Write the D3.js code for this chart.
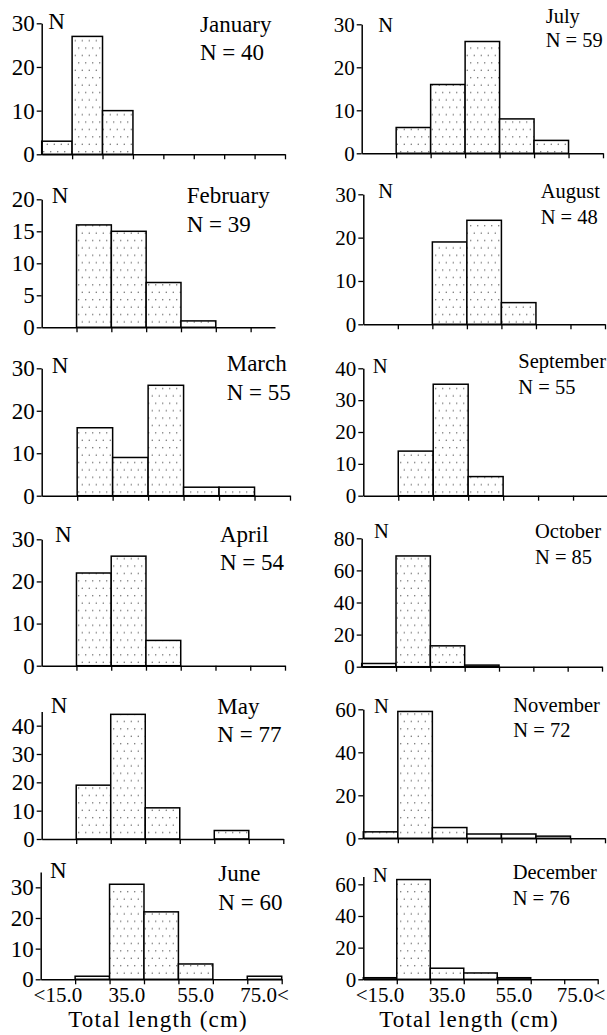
<!DOCTYPE html>
<html><head><meta charset="utf-8">
<script src="https://cdn.jsdelivr.net/npm/d3@7"></script>
<style>
html,body{margin:0;padding:0;background:#fff;}
svg{display:block;}
text{font-family:"Liberation Serif","Times New Roman",serif;fill:#000;}
</style></head><body>
<svg id="chart" width="607" height="1035"></svg>
<script>
// Monthly length-frequency data (number of fish per total-length class)
const months = ["January","February","March","April","May","June",
                "July","August","September","October","November","December"];
const sampleSizes = [40, 39, 55, 54, 77, 60, 59, 48, 55, 85, 72, 76];
const lengthClasses = ["<15.0","25.0","35.0","45.0","55.0","65.0","75.0<"];
const labelledClasses = ["<15.0","35.0","55.0","75.0<"];
const axisTitle = "Total length (cm)";

const countsJanuary   = [3, 27, 10, 0, 0, 0, 0];
const countsFebruary  = [0, 16, 15, 7, 1, 0, 0];
const countsMarch     = [0, 16, 9, 26, 2, 2, 0];
const countsApril     = [0, 22, 26, 6, 0, 0, 0];
const countsMay       = [0, 19, 44, 11, 0, 3, 0];
const countsJune      = [0, 1, 31, 22, 5, 0, 1];
const countsJuly      = [0, 6, 16, 26, 8, 3, 0];
const countsAugust    = [0, 0, 19, 24, 5, 0, 0];
const countsSeptember = [0, 14, 35, 6, 0, 0, 0];
const countsOctober   = [2, 69, 13, 1, 0, 0, 0];
const countsNovember  = [3, 59, 5, 2, 2, 1, 0];
const countsDecember  = [1, 63, 7, 4, 1, 0, 0];

const yAxisMax  = [30, 20, 30, 30, 45, 35, 30, 30, 40, 80, 60, 65];
const yTickStep = [10, 5, 10, 10, 10, 10, 10, 10, 10, 20, 20, 20];

const monthlyCounts = [countsJanuary, countsFebruary, countsMarch, countsApril,
  countsMay, countsJune, countsJuly, countsAugust, countsSeptember,
  countsOctober, countsNovember, countsDecember];

// Panel geometry: plot area, label anchors and font sizes
const L = {font: 23, tick: 23}, R = {font: 20.5, tick: 21};
const layout = [
  {x0:41.7, x1:285,   span:8,   base:154.3, top:23.3,  nx:48.3,  ny:29.3,  tx:200,   ty:32,    ty2:60,    ...L},
  {x0:41.7, x1:275,   span:6.7, base:327.3, top:199.3, nx:51.7,  ny:203.3, tx:186.7, ty:203,   ty2:232,   ...L},
  {x0:41.7, x1:290,   span:7,   base:495.7, top:368.3, nx:51.7,  ny:373.3, tx:226.7, ty:370.7, ty2:400,   ...L},
  {x0:41.7, x1:285,   span:7,   base:665.7, top:539.3, nx:55,    ny:542.3, tx:220,   ty:541.7, ty2:570,   ...L},
  {x0:41.7, x1:283.3, span:7,   base:839,   top:711.5, nx:50.7,  ny:713.3, tx:217.3, ty:714,   ty2:742.3, ...L},
  {x0:40.7, x1:281.7, span:7,   base:979.3, top:872,   nx:50,    ny:878.3, tx:218.3, ty:880.7, ty2:910,   ...L,
   xLabels:true, labelShift:0, titleX:158},
  {x0:361.7, x1:603,  span:7,   base:153.3, top:24.3,  nx:378.3, ny:31.7,  tx:545.7, ty:23.3,  ty2:46.7,  ...R},
  {x0:363.3, x1:605,  span:7,   base:324.3, top:194.3, nx:378.3, ny:198.3, tx:540.7, ty:198.3, ty2:224,   ...R},
  {x0:363.3, x1:608,  span:7,   base:495.7, top:368.3, nx:372.7, ny:373.3, tx:518.3, ty:368.3, ty2:394,   ...R},
  {x0:361.7, x1:602,  span:7,   base:666.7, top:538.3, nx:374,   ny:538.3, tx:535,   ty:538.3, ty2:564,   ...R},
  {x0:363.3, x1:605,  span:7,   base:838.3, top:709.3, nx:374,   ny:713.3, tx:513.3, ty:712.3, ty2:737.3, ...R},
  {x0:363.3, x1:597.7, span:7,  base:979.3, top:876.4, nx:372.7, ny:881.7, tx:512.7, ty:879.3, ty2:905,   ...R,
   xLabels:true, labelShift:0, titleX:469}
];

const svg = d3.select("#chart");

// Stippled fill for the bars (staggered rows of fine dots)
const pat = svg.append("defs").append("pattern")
  .attr("id", "stipple").attr("patternUnits", "userSpaceOnUse")
  .attr("width", 7).attr("height", 14.8);
pat.append("rect").attr("width", 7).attr("height", 14.8).attr("fill", "#fff");
pat.append("circle").attr("cx", 1.75).attr("cy", 3.7).attr("r", 0.65).attr("fill", "#555");
pat.append("circle").attr("cx", 5.25).attr("cy", 11.1).attr("r", 0.65).attr("fill", "#555");

function styleAxis(sel, size) {
  sel.attr("font-family", null).attr("font-size", null);
  sel.select(".domain").attr("stroke", "#000").attr("stroke-width", 1.5);
  sel.selectAll(".tick line").attr("stroke", "#000").attr("stroke-width", 1.3);
  sel.selectAll(".tick text").attr("fill", "#000").style("font-size", size + "px");
}

layout.forEach((p, i) => {
  const g = svg.append("g");
  const x = d3.scaleLinear().domain([0, p.span]).range([p.x0, p.x1]);
  const y = d3.scaleLinear().domain([0, yAxisMax[i]]).range([p.base, p.top]);

  const bars = monthlyCounts[i].map((v, k) => ({k, v})).filter(d => d.v > 0);
  g.selectAll("rect.bar").data(bars).join("rect")
    .attr("class", "bar")
    .attr("x", d => x(d.k))
    .attr("width", d => x(d.k + 1) - x(d.k))
    .attr("y", d => y(d.v))
    .attr("height", d => y(0) - y(d.v))
    .attr("fill", "url(#stipple)")
    .attr("stroke", "#000").attr("stroke-width", 1.5);

  // x axis: class boundaries
  g.append("g").attr("transform", `translate(0,${p.base})`)
    .call(d3.axisBottom(x).tickValues(d3.range(1, Math.floor(p.span) + 1))
      .tickSize(5).tickSizeOuter(0).tickFormat(""))
    .call(s => styleAxis(s, p.tick));

  // y axis: counts
  const ticks = d3.range(0, Math.floor(yAxisMax[i] / yTickStep[i]) * yTickStep[i] + 0.001, yTickStep[i]);
  g.append("g").attr("transform", `translate(${p.x0},0)`)
    .call(d3.axisLeft(y).tickValues(ticks).tickSize(5).tickSizeOuter(0).tickPadding(2))
    .call(s => styleAxis(s, p.tick));

  // class labels under the bottom panels
  if (p.xLabels) {
    const xb = d3.scaleBand().domain(lengthClasses).range([x(0), x(7)]);
    g.append("g").attr("transform", `translate(${p.labelShift},${p.base})`)
      .call(d3.axisBottom(xb).tickValues(labelledClasses).tickSize(0).tickPadding(7.5))
      .call(s => { styleAxis(s, 21); s.select(".domain").remove(); });
    g.append("text").attr("x", p.titleX).attr("y", p.base + 47.4)
      .attr("text-anchor", "middle").style("font-size", "23px")
      .style("letter-spacing", "1.2px").text(axisTitle);
  }

  g.append("text").attr("x", p.nx).attr("y", p.ny).style("font-size", p.font + "px").text("N");
  g.append("text").attr("x", p.tx).attr("y", p.ty).style("font-size", p.font + "px").text(months[i]);
  g.append("text").attr("x", p.tx).attr("y", p.ty2).style("font-size", p.font + "px")
    .text("N = " + sampleSizes[i]);
});
</script>
</body></html>
